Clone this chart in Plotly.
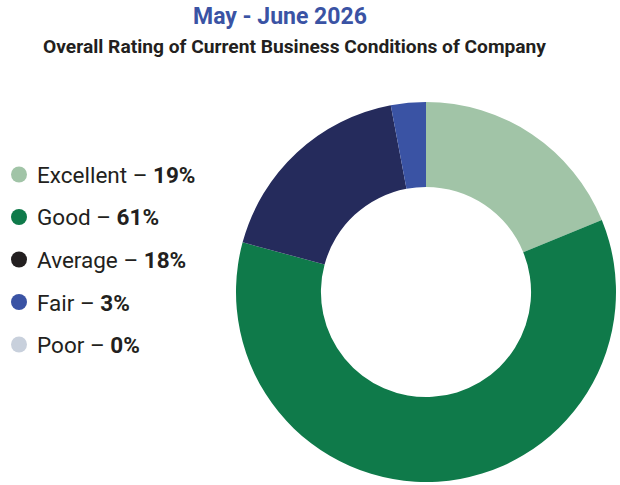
import plotly.graph_objects as go

categories = ["Excellent", "Good", "Average", "Fair", "Poor"]
values = [19, 61, 18, 3, 0]
slice_colors = ["#a1c4a7", "#0f7a4a", "#252b5c", "#3a53a4", "#c8d0dc"]
legend_colors = ["#a1c4a7", "#0f7a4a", "#231f20", "#3a53a4", "#c8d0dc"]
title_text = "May - June 2026"
subtitle_text = "Overall Rating of Current Business Conditions of Company"

W, H = 620, 485
FONT = "Roboto, Liberation Sans, Arial"

fig = go.Figure()
fig.add_trace(go.Pie(
    labels=categories, values=values, hole=0.553, sort=False,
    direction="clockwise", rotation=0,
    marker=dict(colors=slice_colors, line=dict(width=0)),
    textinfo="none", hoverinfo="label+percent", showlegend=False,
    domain=dict(x=[236 / W, 616 / W], y=[3 / H, 383 / H]),
))

annotations = [
    dict(text="<b>" + title_text + "</b>", x=280 / W, y=1 - 17 / H, xref="paper", yref="paper",
         showarrow=False, font=dict(family=FONT, size=23, color="#3a53a4"), xanchor="center", yanchor="middle"),
    dict(text="<b>" + subtitle_text + "</b>", x=294 / W, y=1 - 47 / H, xref="paper", yref="paper",
         showarrow=False, font=dict(family=FONT, size=19.2, color="#231f20"), xanchor="center", yanchor="middle"),
]
shapes = []
row_y0, row_dy = 175, 42.5
for i, (cat, val) in enumerate(zip(categories, values)):
    cy = row_y0 + i * row_dy
    shapes.append(dict(type="circle", xref="paper", yref="paper",
                       x0=11 / W, x1=27 / W, y0=1 - (cy + 7.5) / H, y1=1 - (cy - 8.5) / H,
                       fillcolor=legend_colors[i], line=dict(width=0)))
    annotations.append(dict(text=f"{cat} – <b>{val}%</b>", x=35 / W, y=1 - cy / H,
                            xref="paper", yref="paper", showarrow=False, xanchor="left", yanchor="middle",
                            font=dict(family=FONT, size=22.5, color="#231f20")))

fig.update_layout(width=W, height=H, margin=dict(l=0, r=0, t=0, b=0),
                  paper_bgcolor="white", plot_bgcolor="white",
                  annotations=annotations, shapes=shapes)
fig.write_html("out.html")
